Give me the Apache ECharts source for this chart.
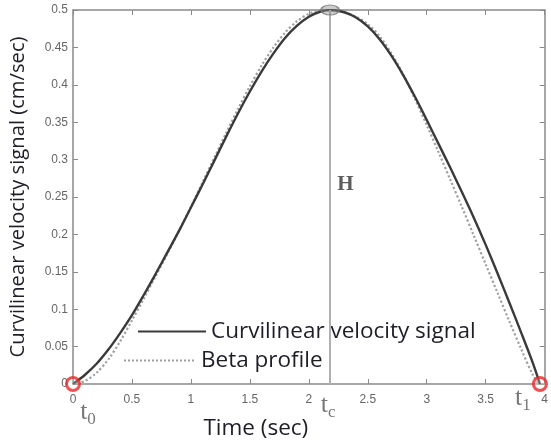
<!DOCTYPE html>
<html>
<head>
<meta charset="utf-8">
<script src="https://cdn.jsdelivr.net/npm/echarts@6/dist/echarts.min.js"></script>
<style>
html,body{margin:0;padding:0;background:#fff;}
#chart{width:551px;height:447px;}
</style>
</head>
<body>
<div id="chart"></div>
<script>
// ---- data ----
const curvTime   = [0, 0.1, 0.2, 0.3, 0.4, 0.5, 0.6, 0.7, 0.8, 0.9, 1.0, 1.1, 1.2, 1.3, 1.4, 1.5, 1.6, 1.7, 1.8, 1.9, 2.0, 2.1, 2.18, 2.3, 2.4, 2.5, 2.6, 2.7, 2.8, 2.9, 3.0, 3.1, 3.2, 3.3, 3.4, 3.5, 3.6, 3.7, 3.8, 3.9, 3.96];
const curvValues = [0, 0.012, 0.027, 0.046, 0.068, 0.092, 0.119, 0.147, 0.176, 0.205, 0.236, 0.267, 0.299, 0.331, 0.362, 0.391, 0.418, 0.442, 0.463, 0.479, 0.491, 0.498, 0.5, 0.497, 0.49, 0.478, 0.461, 0.439, 0.413, 0.384, 0.353, 0.321, 0.289, 0.256, 0.222, 0.186, 0.148, 0.109, 0.069, 0.028, 0];
const betaTime   = [0, 0.1, 0.2, 0.3, 0.4, 0.5, 0.6, 0.7, 0.8, 0.9, 1.0, 1.1, 1.2, 1.3, 1.4, 1.5, 1.6, 1.7, 1.8, 1.9, 2.0, 2.1, 2.18, 2.3, 2.4, 2.5, 2.6, 2.7, 2.8, 2.9, 3.0, 3.1, 3.2, 3.3, 3.4, 3.5, 3.6, 3.7, 3.8, 3.9, 3.95];
const betaValues = [0, 0.004, 0.015, 0.033, 0.057, 0.085, 0.114, 0.144, 0.174, 0.205, 0.237, 0.27, 0.303, 0.336, 0.368, 0.398, 0.426, 0.45, 0.47, 0.485, 0.495, 0.5, 0.5, 0.497, 0.491, 0.481, 0.465, 0.442, 0.414, 0.381, 0.346, 0.31, 0.273, 0.236, 0.198, 0.16, 0.122, 0.084, 0.047, 0.012, 0];
const seriesNames = ['Curvilinear velocity signal', 'Beta profile'];
const xTickLabels = ['0', '0.5', '1', '1.5', '2', '2.5', '3', '3.5', '4'];
const yTickLabels = ['0', '0.05', '0.1', '0.15', '0.2', '0.25', '0.3', '0.35', '0.4', '0.45', '0.5'];
const endTimes   = [0, 3.96];          // t0, t1
const endNames   = ['0', '1'];
const peakTime   = 2.18;               // tc
const peakValue  = 0.5;                // H
const hLabelAt   = [2.31, 0.266];
const xTitle = 'Time (sec)';
const yTitle = 'Curvilinear velocity signal (cm/sec)';

const chart = echarts.init(document.getElementById('chart'), null, {renderer: 'canvas'});
const axisGray = '#8a8a8a';
const tickFont = {fontFamily: 'Liberation Sans', fontSize: 12, color: '#666'};
const titleFont = {fontFamily: 'Open Sans', fontSize: 22.5, color: '#1e1e28'};

function zip(a, b) { return a.map((v, i) => [v, b[i]]); }

const tRich = {
  t: {fontFamily: 'Liberation Serif', fontSize: 26, color: '#555'},
  s: {fontFamily: 'Liberation Serif', fontSize: 17, color: '#555', verticalAlign: 'bottom', padding: [14, 0, 0, 0]}
};

const xBase = {
  type: 'value', min: 0, max: 4, interval: 0.5,
  splitLine: {show: false},
  axisLine: {show: true, onZero: false, lineStyle: {color: axisGray, width: 1.5}},
  axisTick: {show: true, inside: true, length: 5, lineStyle: {color: axisGray}}
};
const yBase = {
  type: 'value', min: 0, max: 0.5, interval: 0.05,
  splitLine: {show: false},
  axisLine: {show: true, onZero: false, lineStyle: {color: axisGray, width: 1.5}},
  axisTick: {show: true, inside: true, length: 5, lineStyle: {color: axisGray}}
};

chart.setOption({
  animation: false,
  backgroundColor: '#fff',
  grid: {left: 70, right: 4, top: 10, bottom: 63, containLabel: false},
  xAxis: [
    Object.assign({}, xBase, {
      position: 'bottom',
      name: xTitle, nameLocation: 'middle', nameGap: 33,
      nameTextStyle: Object.assign({}, titleFont, {padding: [0, 106, 0, 0]}),
      axisLabel: {show: true, margin: 10, formatter: (v) => xTickLabels[Math.round(v / 0.5)], ...tickFont}
    }),
    Object.assign({}, xBase, {position: 'top', axisLabel: {show: false}})
  ],
  yAxis: [
    Object.assign({}, yBase, {
      position: 'left',
      name: yTitle, nameLocation: 'middle', nameGap: 45,
      nameTextStyle: Object.assign({}, titleFont, {fontSize: 20.2}),
      axisLabel: {show: true, margin: 5, formatter: (v) => yTickLabels[Math.round(v / 0.05)], ...tickFont}
    }),
    Object.assign({}, yBase, {position: 'right', axisLabel: {show: false}})
  ],
  legend: [
    {
      data: [seriesNames[0]], left: 137, top: 320, orient: 'vertical',
      itemWidth: 68, itemHeight: 14, padding: 0,
      itemStyle: {opacity: 0},
      textStyle: titleFont
    },
    {
      data: [seriesNames[1]], left: 123, top: 349, orient: 'vertical',
      itemWidth: 72, itemHeight: 14, padding: 0,
      itemStyle: {opacity: 0},
      textStyle: titleFont
    }
  ],
  series: [
    {
      name: seriesNames[1], type: 'line', data: zip(betaTime, betaValues),
      showSymbol: false, symbol: 'none', smooth: 0.3,
      lineStyle: {color: '#a0a0a0', width: 2.2, type: 'dotted'},
      itemStyle: {color: '#a0a0a0'},
      z: 2
    },
    {
      name: seriesNames[0], type: 'line', data: zip(curvTime, curvValues),
      showSymbol: false, symbol: 'none', smooth: 0.3,
      lineStyle: {color: '#3a3a3a', width: 2.4},
      itemStyle: {color: '#3a3a3a'},
      z: 3,
      markLine: {
        silent: true, symbol: 'none', animation: false,
        lineStyle: {color: '#b0b0b0', width: 2, type: 'solid'},
        label: {show: false},
        data: [[{coord: [peakTime, 0]}, {coord: [peakTime, peakValue]}]]
      }
    },
    {
      name: 'ends', type: 'scatter', clip: false, z: 5,
      data: endTimes.map((t, i) => ({value: [t, 0], name: endNames[i]})),
      symbol: 'circle', symbolSize: 13,
      itemStyle: {color: 'rgba(255,255,255,0.3)', borderColor: '#e8282a', borderWidth: 3},
      label: {
        show: true,
        formatter: (p) => '{t|t}{s|' + p.name + '}',
        rich: tRich,
        position: 'bottom',
        offset: [0, 0]
      },
      labelLayout: (p) => p.dataIndex === 0 ? {dx: 15, dy: 0} : {dx: -17, dy: -14}
    },
    {
      name: 'peak', type: 'scatter', clip: false, z: 5,
      data: [[peakTime, peakValue]],
      symbol: 'circle', symbolSize: [18, 10],
      itemStyle: {color: 'rgba(140,140,140,0.55)', borderColor: '#777', borderWidth: 1.5},
      label: {show: false}
    },
    {
      name: 'tc', type: 'scatter', clip: false, z: 5,
      data: [[peakTime, 0]], symbolSize: 0,
      label: {show: true, position: 'bottom', distance: 6, formatter: '{t|t}{s|c}', rich: tRich, offset: [-2, 0]}
    },
    {
      name: 'H', type: 'scatter', z: 5,
      data: [hLabelAt], symbolSize: 0,
      label: {show: true, position: 'inside', formatter: 'H', fontFamily: 'Liberation Serif', fontWeight: 'bold', fontSize: 21, color: '#333'}
    }
  ]
});
</script>
</body>
</html>
